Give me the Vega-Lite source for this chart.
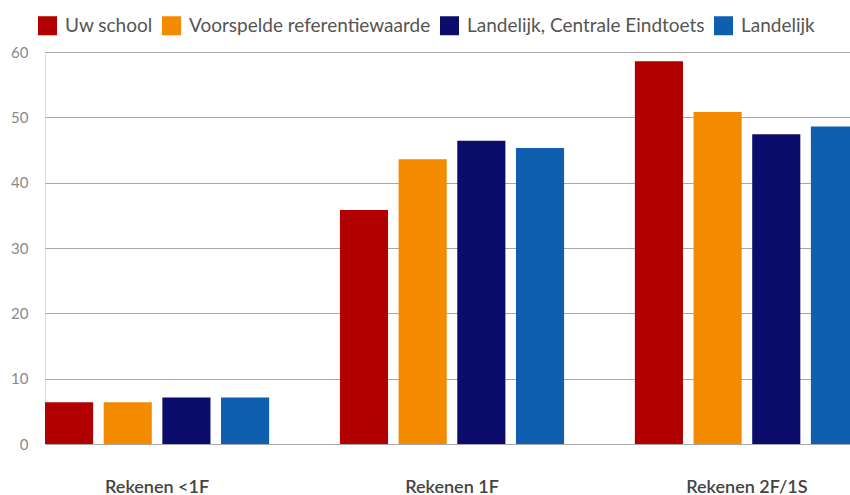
{
  "$schema": "https://vega.github.io/schema/vega-lite/v6.json",
  "autosize": {"type": "none"},
  "padding": {"left": 45, "top": 52, "right": 0, "bottom": 51},
  "width": 814,
  "height": 392,
  "background": "white",
  "data": {"values": [
    {"cat": "Rekenen <1F", "series": "Uw school", "value": 6.4},
    {"cat": "Rekenen <1F", "series": "Voorspelde referentiewaarde", "value": 6.4},
    {"cat": "Rekenen <1F", "series": "Landelijk, Centrale Eindtoets", "value": 7.1},
    {"cat": "Rekenen <1F", "series": "Landelijk", "value": 7.1},
    {"cat": "Rekenen 1F", "series": "Uw school", "value": 35.8},
    {"cat": "Rekenen 1F", "series": "Voorspelde referentiewaarde", "value": 43.6},
    {"cat": "Rekenen 1F", "series": "Landelijk, Centrale Eindtoets", "value": 46.4},
    {"cat": "Rekenen 1F", "series": "Landelijk", "value": 45.3},
    {"cat": "Rekenen 2F/1S", "series": "Uw school", "value": 58.6},
    {"cat": "Rekenen 2F/1S", "series": "Voorspelde referentiewaarde", "value": 50.8},
    {"cat": "Rekenen 2F/1S", "series": "Landelijk, Centrale Eindtoets", "value": 47.4},
    {"cat": "Rekenen 2F/1S", "series": "Landelijk", "value": 48.6}
  ]},
  "mark": {"type": "bar"},
  "encoding": {
    "x": {
      "field": "cat", "type": "nominal", "sort": null,
      "scale": {"paddingInner": 0.24, "paddingOuter": 0},
      "axis": {"title": null, "domain": false, "ticks": false, "labelAngle": 0,
        "labelPadding": 34, "labelFont": "Lato", "labelFontSize": 18, "labelFontWeight": 600, "labelColor": "#444"}
    },
    "xOffset": {
      "field": "series", "type": "nominal",
      "sort": ["Uw school", "Voorspelde referentiewaarde", "Landelijk, Centrale Eindtoets", "Landelijk"],
      "scale": {"paddingInner": 0.18, "paddingOuter": 0}
    },
    "y": {
      "field": "value", "type": "quantitative",
      "scale": {"domain": [0, 60], "nice": false},
      "axis": {"title": null, "domain": false, "ticks": false, "values": [0, 10, 20, 30, 40, 50, 60],
        "gridColor": "#a8a8a8", "gridWidth": 1, "labelPadding": 17,
        "labelFont": "Lato", "labelFontSize": 15, "labelColor": "#8a8a8a"}
    },
    "color": {
      "field": "series", "type": "nominal",
      "sort": ["Uw school", "Voorspelde referentiewaarde", "Landelijk, Centrale Eindtoets", "Landelijk"],
      "scale": {"domain": ["Uw school", "Voorspelde referentiewaarde", "Landelijk, Centrale Eindtoets", "Landelijk"],
        "range": ["#b20000", "#f38a00", "#0b0c6b", "#0f5fb0"]},
      "legend": {"title": null, "orient": "none", "direction": "horizontal", "legendX": -7, "legendY": -36,
        "symbolType": "square", "symbolSize": 361, "symbolStrokeWidth": 0, "symbolOpacity": 1,
        "labelFont": "Lato", "labelFontSize": 19, "labelColor": "#555", "labelOffset": 8,
        "columnPadding": 9, "labelLimit": 400}
    }
  }
}
